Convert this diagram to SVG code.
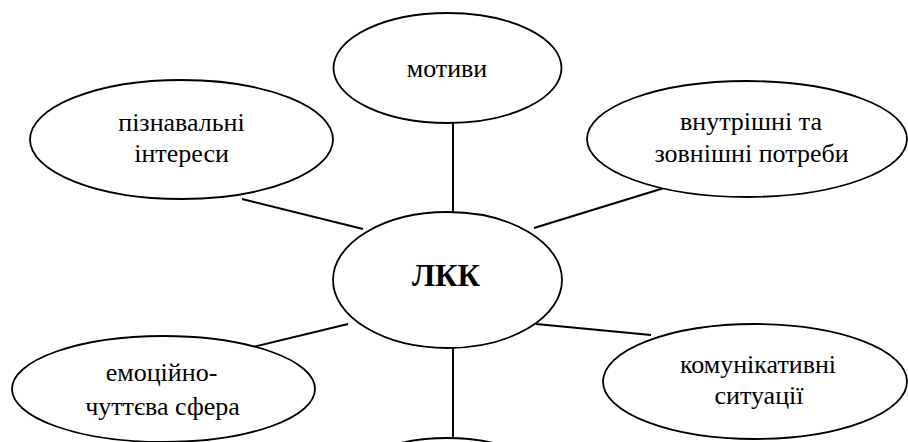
<svg xmlns="http://www.w3.org/2000/svg" width="908" height="442" viewBox="0 0 908 442">
<style>
.n{fill:#fff;stroke:#000;stroke-width:1.8}
.c line{stroke:#000;stroke-width:2}
.t{font-family:'Liberation Serif','DejaVu Serif',serif;font-size:26px;fill:#000;text-anchor:middle}
.b{font-weight:bold;font-size:31px}
</style>
<rect width="908" height="442" fill="#fff"/>
<g id="connectors" class="c">
<line x1="453" y1="123" x2="453" y2="212"/>
<line x1="453" y1="348" x2="453" y2="438"/>
<line x1="242" y1="199" x2="363" y2="229"/>
<line x1="664" y1="188" x2="534" y2="228"/>
<line x1="348" y1="324" x2="253" y2="347"/>
<line x1="536" y1="324" x2="651" y2="335"/>
</g>
<g id="motyvy">
<ellipse class="n" cx="447.5" cy="68" rx="114" ry="55"/>
<text class="t" x="447" y="77">мотиви</text>
</g>
<g id="piznavalni">
<ellipse class="n" cx="181.5" cy="139.5" rx="151.5" ry="59.5"/>
<text class="t" x="181.5" y="131">пізнавальні</text>
<text class="t" x="181.5" y="162">інтереси</text>
</g>
<g id="potreby">
<ellipse class="n" cx="747" cy="139" rx="160" ry="58"/>
<text class="t" x="751" y="130">внутрішні та</text>
<text class="t" x="751.5" y="162">зовнішні потреби</text>
</g>
<g id="lkk">
<ellipse class="n" cx="447.5" cy="280" rx="114.5" ry="68"/>
<text class="t b" x="446" y="286">ЛКК</text>
</g>
<g id="emotsiina">
<ellipse class="n" cx="163.5" cy="389" rx="151.5" ry="53"/>
<text class="t" x="161.5" y="381">емоційно-</text>
<text class="t" x="162.5" y="415">чуттєва сфера</text>
</g>
<g id="komunikatyvni">
<ellipse class="n" cx="755" cy="381.5" rx="152" ry="57.5"/>
<text class="t" x="758" y="373">комунікативні</text>
<text class="t" x="759" y="404">ситуації</text>
</g>
<g id="bottom">
<ellipse class="n" cx="447" cy="498" rx="114" ry="60"/>
</g>
</svg>
